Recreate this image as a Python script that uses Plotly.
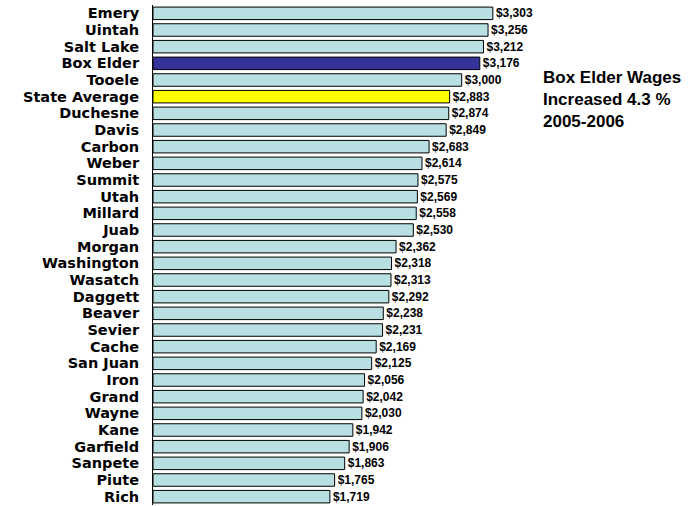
import plotly.graph_objects as go

# County average monthly wages, top to bottom
counties = ["Emery", "Uintah", "Salt Lake", "Box Elder", "Tooele", "State Average",
            "Duchesne", "Davis", "Carbon", "Weber", "Summit", "Utah", "Millard", "Juab",
            "Morgan", "Washington", "Wasatch", "Daggett", "Beaver", "Sevier", "Cache",
            "San Juan", "Iron", "Grand", "Wayne", "Kane", "Garfield", "Sanpete", "Piute", "Rich"]
wages = [3303, 3256, 3212, 3176, 3000, 2883, 2874, 2849, 2683, 2614, 2575, 2569, 2558, 2530,
         2362, 2318, 2313, 2292, 2238, 2231, 2169, 2125, 2056, 2042, 2030, 1942, 1906, 1863,
         1765, 1719]

base_color = "#B8E0E3"
highlight = {"Box Elder": "#333399", "State Average": "#FFFF00"}
colors = [highlight.get(c, base_color) for c in counties]

fig = go.Figure(go.Bar(
    x=wages,
    y=counties,
    orientation="h",
    marker=dict(color=colors, line=dict(color="#000000", width=1)),
    texttemplate="$%{x:,}",
    textposition="outside",
    constraintext="none",
    textfont=dict(family="Arial, Liberation Sans", size=12, color="#000000", weight="bold"),
    cliponaxis=False,
))

fig.update_layout(
    width=689, height=506,
    margin=dict(l=153, r=0, t=5, b=1),
    paper_bgcolor="white", plot_bgcolor="white",
    bargap=0.25,
    showlegend=False,
    xaxis=dict(range=[0, 5209], visible=False, fixedrange=True),
    yaxis=dict(
        autorange="reversed",
        tickmode="array", tickvals=counties, ticktext=counties,
        showline=True, linecolor="#000000", linewidth=1,
        ticks="", ticklabelstandoff=10,
        tickfont=dict(family="DejaVu Sans", size=14.5, color="#000000", weight="bold"),
        showgrid=False,
    ),
    font=dict(family="Arial, Liberation Sans", weight="bold"),
    annotations=[dict(
        text="Box Elder Wages<br>Increased 4.3 %<br>2005-2006",
        xref="paper", yref="paper",
        x=(541 - 153) / 536, y=1 - (66 - 5) / 500,
        xanchor="left", yanchor="top", align="left", showarrow=False,
        font=dict(family="Arial, Liberation Sans", size=17, color="#000000", weight="bold"),
    )],
)

fig.write_html("out.html")
